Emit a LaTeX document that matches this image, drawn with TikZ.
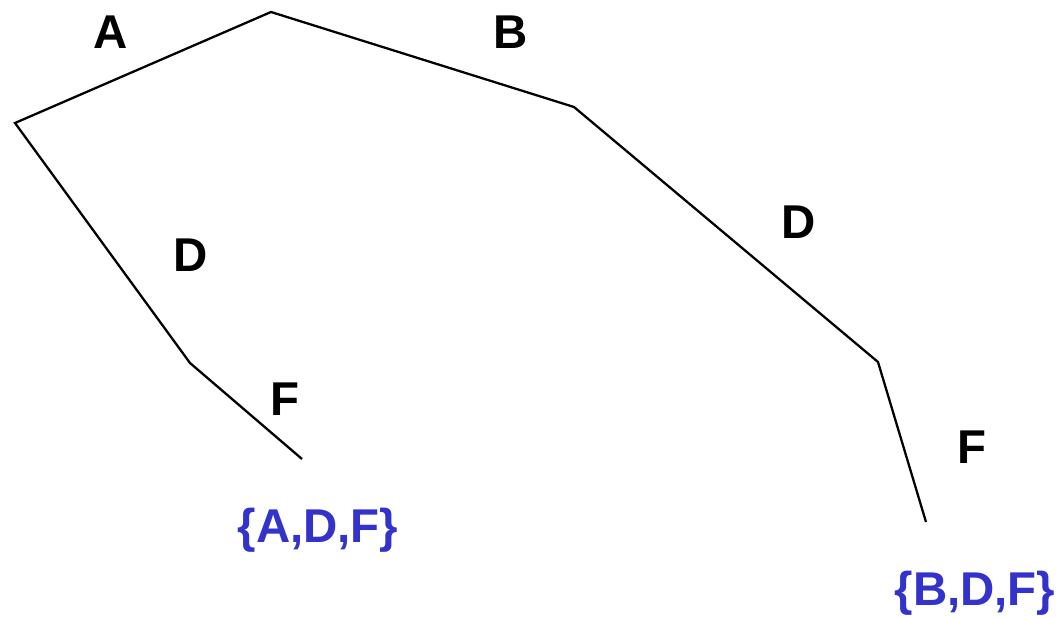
\documentclass[tikz,border=0pt]{standalone}
\usepackage{fontspec}
\setmainfont{Liberation Sans}
\definecolor{setblue}{RGB}{51,51,204}

\begin{document}
\begin{tikzpicture}[x=0.02cm, y=-0.02cm,
  edge/.style={black, line width=1.3pt},
  lbl/.style={font=\fontsize{27}{31}\selectfont\bfseries, inner sep=0pt},
  setlbl/.style={lbl, text=setblue}]

  \useasboundingbox (0,0) rectangle (1059,618);

  % sommets de l'arbre
  \coordinate (root) at (271,12);
  \coordinate (l1) at (15,123);
  \coordinate (l2) at (190,363);
  \coordinate (l3) at (302,459);
  \coordinate (r1) at (574,107);
  \coordinate (r2) at (878,362);
  \coordinate (r3) at (926,522);

  % branches
  \draw[edge] (l3) -- (l2) -- (l1) -- (root) -- (r1) -- (r2) -- (r3);

  % étiquettes des arêtes
  \node[lbl] (la) at (111,32) {A};
  \node[lbl] (lb) at (511,32) {B};
  \node[lbl] (ld) at (191,255) {D};
  \node[lbl] (lf) at (285,399) {F};
  \node[lbl] (rd) at (799,222) {D};
  \node[lbl] (rf) at (972,447) {F};

  % ensembles aux feuilles
  \node[setlbl] (setl) at (318,530) {\{A,D,F\}};
  \node[setlbl] (setr) at (975,593) {\{B,D,F\}};

\end{tikzpicture}
\end{document}
